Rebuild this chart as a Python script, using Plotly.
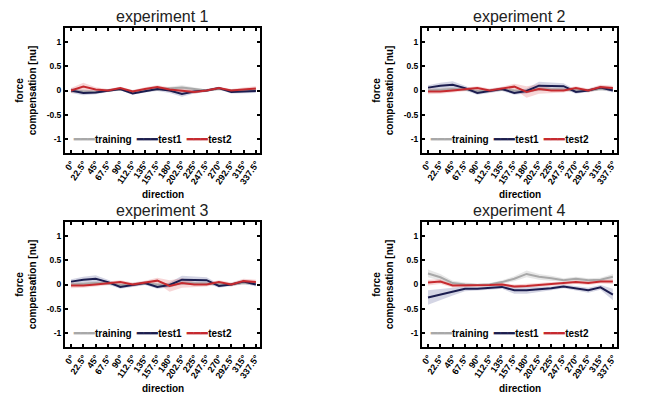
import plotly.graph_objects as go

# ---------------- data ----------------
directions = [0, 22.5, 45, 67.5, 90, 112.5, 135, 157.5, 180, 202.5, 225, 247.5, 270, 292.5, 315, 337.5]
tick_labels = ["0°", "22.5°", "45°", "67.5°", "90°", "112.5°", "135°", "157.5°",
               "180°", "202.5°", "225°", "247.5°", "270°", "292.5°", "315°", "337.5°"]
series_names = ["training", "test1", "test2"]
titles = ["experiment 1", "experiment 2", "experiment 3", "experiment 4"]

exp1_training = [-0.01, -0.02, -0.03, 0.0, 0.02, -0.02, 0.0, 0.03, 0.04, 0.06, 0.03, 0.0, 0.03, 0.0, 0.01, 0.02]
exp1_training_err = [0.03, 0.04, 0.03, 0.02, 0.02, 0.03, 0.03, 0.03, 0.04, 0.05, 0.03, 0.02, 0.02, 0.02, 0.03, 0.03]
exp1_test1 = [0.0, -0.05, -0.04, 0.0, 0.03, -0.06, -0.01, 0.03, 0.0, -0.07, -0.02, 0.0, 0.05, -0.03, -0.02, -0.01]
exp1_test1_err = [0.05, 0.05, 0.04, 0.03, 0.03, 0.03, 0.03, 0.04, 0.05, 0.06, 0.04, 0.03, 0.03, 0.03, 0.03, 0.04]
exp1_test2 = [0.0, 0.08, 0.02, 0.0, 0.05, -0.02, 0.03, 0.07, 0.02, 0.0, -0.03, 0.0, 0.05, 0.0, 0.02, 0.04]
exp1_test2_err = [0.05, 0.08, 0.05, 0.03, 0.03, 0.03, 0.04, 0.04, 0.05, 0.06, 0.04, 0.03, 0.03, 0.03, 0.04, 0.05]

exp2_training = [0.0, 0.02, 0.03, 0.02, -0.01, 0.0, 0.02, 0.0, -0.01, 0.03, 0.02, 0.02, 0.0, 0.0, 0.03, 0.02]
exp2_training_err = [0.03, 0.03, 0.03, 0.03, 0.03, 0.03, 0.03, 0.03, 0.04, 0.04, 0.03, 0.03, 0.03, 0.03, 0.03, 0.03]
exp2_test1 = [0.06, 0.10, 0.12, 0.05, -0.05, -0.01, 0.03, -0.05, -0.01, 0.10, 0.10, 0.09, -0.03, 0.0, 0.06, 0.0]
exp2_test1_err = [0.05, 0.06, 0.07, 0.05, 0.04, 0.04, 0.04, 0.04, 0.05, 0.08, 0.06, 0.06, 0.04, 0.03, 0.04, 0.04]
exp2_test2 = [-0.02, -0.02, 0.0, 0.02, 0.05, 0.0, 0.04, 0.08, -0.03, 0.03, 0.0, 0.0, 0.05, 0.0, 0.07, 0.05]
exp2_test2_err = [0.06, 0.05, 0.05, 0.04, 0.04, 0.04, 0.04, 0.06, 0.12, 0.10, 0.05, 0.04, 0.04, 0.04, 0.05, 0.05]

exp3_training = [0.0, 0.02, 0.03, 0.02, -0.01, 0.0, 0.02, 0.0, -0.01, 0.03, 0.02, 0.02, 0.0, 0.0, 0.03, 0.02]
exp3_training_err = [0.03, 0.03, 0.03, 0.03, 0.03, 0.03, 0.03, 0.03, 0.04, 0.04, 0.03, 0.03, 0.03, 0.03, 0.03, 0.03]
exp3_test1 = [0.06, 0.10, 0.12, 0.05, -0.05, -0.01, 0.03, -0.05, -0.01, 0.10, 0.10, 0.09, -0.03, 0.0, 0.06, 0.0]
exp3_test1_err = [0.05, 0.06, 0.07, 0.05, 0.04, 0.04, 0.04, 0.04, 0.05, 0.08, 0.06, 0.06, 0.04, 0.03, 0.04, 0.04]
exp3_test2 = [-0.02, -0.02, 0.0, 0.02, 0.05, 0.0, 0.04, 0.08, -0.03, 0.03, 0.0, 0.0, 0.05, 0.0, 0.07, 0.05]
exp3_test2_err = [0.06, 0.05, 0.05, 0.04, 0.04, 0.04, 0.04, 0.06, 0.12, 0.10, 0.05, 0.04, 0.04, 0.04, 0.05, 0.05]

exp4_training = [0.23, 0.15, 0.03, 0.0, -0.01, 0.0, 0.05, 0.12, 0.22, 0.16, 0.13, 0.09, 0.12, 0.09, 0.10, 0.16]
exp4_training_err = [0.08, 0.07, 0.05, 0.04, 0.03, 0.03, 0.04, 0.05, 0.07, 0.06, 0.05, 0.04, 0.04, 0.04, 0.04, 0.06]
exp4_test1 = [-0.27, -0.21, -0.15, -0.09, -0.09, -0.07, -0.05, -0.12, -0.12, -0.10, -0.08, -0.04, -0.08, -0.12, -0.06, -0.21]
exp4_test1_err = [0.15, 0.12, 0.08, 0.05, 0.04, 0.04, 0.04, 0.07, 0.07, 0.05, 0.04, 0.04, 0.04, 0.05, 0.05, 0.12]
exp4_test2 = [0.04, 0.06, -0.02, -0.02, -0.02, -0.01, 0.0, -0.04, -0.03, -0.01, 0.01, 0.02, 0.05, 0.03, 0.06, 0.06]
exp4_test2_err = [0.06, 0.05, 0.04, 0.03, 0.03, 0.03, 0.03, 0.04, 0.04, 0.04, 0.04, 0.03, 0.04, 0.04, 0.04, 0.05]

experiments = [
    [(exp1_training, exp1_training_err), (exp1_test1, exp1_test1_err), (exp1_test2, exp1_test2_err)],
    [(exp2_training, exp2_training_err), (exp2_test1, exp2_test1_err), (exp2_test2, exp2_test2_err)],
    [(exp3_training, exp3_training_err), (exp3_test1, exp3_test1_err), (exp3_test2, exp3_test2_err)],
    [(exp4_training, exp4_training_err), (exp4_test1, exp4_test1_err), (exp4_test2, exp4_test2_err)],
]

# ---------------- style ----------------
W, H = 668, 394
line_colors = ["#a8a8a8", "#1b1d4f", "#c62a2f"]
band_colors = ["rgba(160,160,160,0.25)", "rgba(40,45,120,0.20)", "rgba(215,50,55,0.20)"]
FONT = "Arial, Liberation Sans, sans-serif"
YR = [-1.3, 1.3]
XR = [-11, 345]

# pixel boxes (left, right, top, bottom)
boxes = [(65, 260, 28, 153), (422, 617, 28, 153), (65, 260, 222, 347), (422, 617, 222, 347)]

# compact inline legend text (line sample + name for each series)
legend_text = "&nbsp;&nbsp;".join(
    f"<span style='color:{c};font-size:11px'>━━━</span>{n}"
    for c, n in zip(line_colors, series_names))

fig = go.Figure()
layout = dict(width=W, height=H, margin=dict(l=0, r=0, t=0, b=0),
              paper_bgcolor="white", plot_bgcolor="white", showlegend=False,
              font=dict(family=FONT, color="black"), annotations=[])

for k, (exp, box) in enumerate(zip(experiments, boxes)):
    sfx = "" if k == 0 else str(k + 1)
    xa, ya = "x" + sfx, "y" + sfx
    l, r, t, b = box
    xd = [l / W, r / W]
    yd = [1 - b / H, 1 - t / H]
    # bands
    for s, (vals, err) in enumerate(exp):
        up = [v + e for v, e in zip(vals, err)]
        lo = [v - e for v, e in zip(vals, err)]
        fig.add_trace(go.Scatter(x=directions + directions[::-1], y=up + lo[::-1],
                                 fill="toself", fillcolor=band_colors[s], line=dict(width=0),
                                 mode="lines", showlegend=False, hoverinfo="skip",
                                 xaxis=xa, yaxis=ya))
    # lines
    for s, (vals, err) in enumerate(exp):
        fig.add_trace(go.Scatter(x=directions, y=vals, mode="lines", name=series_names[s],
                                 line=dict(color=line_colors[s], width=2),
                                 xaxis=xa, yaxis=ya))
    common = dict(showline=True, linecolor="black", linewidth=2, mirror="ticks",
                  ticks="inside", ticklen=3, tickwidth=1.5, tickcolor="black",
                  showgrid=False, zeroline=False, automargin=False)
    layout["xaxis" + sfx] = dict(common, domain=xd, range=XR, anchor=ya,
                                 tickvals=directions, ticktext=tick_labels, tickangle=-55,
                                 tickfont=dict(size=9, family=FONT, weight="bold"))
    layout["yaxis" + sfx] = dict(common, domain=yd, range=YR, anchor=xa,
                                 tickvals=[-1, -0.5, 0, 0.5, 1],
                                 ticktext=["-1", "-0.5", "0", "0.5", "1"],
                                 tickfont=dict(size=8.5, family=FONT, weight="bold"),
                                 title=dict(text="<b>force<br>compensation [nu]</b>",
                                            font=dict(size=10), standoff=8))
    # subplot title
    layout["annotations"].append(dict(text=titles[k], xref="paper", yref="paper",
                                      x=(xd[0] + xd[1]) / 2, y=yd[1], yanchor="bottom",
                                      xanchor="center", showarrow=False, yshift=1,
                                      font=dict(size=16, family=FONT, color="#222222")))
    # x-axis title
    layout["annotations"].append(dict(text="<b>direction</b>", xref="paper", yref="paper",
                                      x=(xd[0] + xd[1]) / 2, y=1 - (b + 41) / H,
                                      xanchor="center", yanchor="middle", showarrow=False,
                                      font=dict(size=10, family=FONT, color="black")))
    # legend row inside the axes, at y = -1
    layout["annotations"].append(dict(text=legend_text, xref=f"{xa} domain", yref=ya,
                                      x=6 / (r - l), y=-1, xanchor="left", yanchor="middle",
                                      showarrow=False,
                                      font=dict(size=10, family=FONT, color="black",
                                                weight="bold")))

fig.update_layout(**layout)
fig.write_html("out.html", config={"displayModeBar": False},
               post_script="document.body.style.margin='0';")
